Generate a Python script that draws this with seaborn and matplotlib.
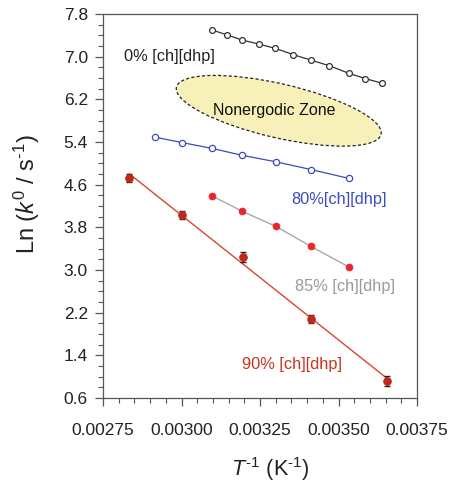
import numpy as np
import pandas as pd
import matplotlib
matplotlib.use("Agg")
import matplotlib.pyplot as plt
import matplotlib.transforms as mtransforms
from matplotlib.patches import Ellipse
from matplotlib.ticker import MultipleLocator, FormatStrFormatter
import seaborn as sns

# ---- data ----
x_0 = [0.003097, 0.003144, 0.003194, 0.003247, 0.003299, 0.003355,
       0.003412, 0.003471, 0.003532, 0.003585, 0.003640]
y_0 = [7.50, 7.41, 7.31, 7.235, 7.155, 7.04, 6.935, 6.83, 6.69, 6.59, 6.50]

x_80 = [0.002916, 0.003002, 0.003097, 0.003194, 0.003300, 0.003412, 0.003532]
y_80 = [5.49, 5.39, 5.28, 5.15, 5.03, 4.885, 4.72]

x_85 = [0.003097, 0.003194, 0.003300, 0.003412, 0.003532]
y_85 = [4.39, 4.10, 3.82, 3.445, 3.06]

x_90 = [0.002833, 0.003002, 0.003196, 0.003412, 0.003655]
y_90 = [4.73, 4.03, 3.24, 2.085, 0.92]
err_90 = [0.08, 0.08, 0.09, 0.08, 0.09]

labels = ["0% [ch][dhp]", "80%[ch][dhp]", "85% [ch][dhp]", "90% [ch][dhp]"]
zone_label = "Nonergodic Zone"

x_ticks = [0.00275, 0.00300, 0.00325, 0.00350, 0.00375]
y_ticks = [0.6, 1.4, 2.2, 3.0, 3.8, 4.6, 5.4, 6.2, 7.0, 7.8]

# ---- style ----
sns.set_theme(style="ticks")
plt.rcParams["font.family"] = ["Liberation Sans", "DejaVu Sans"]
plt.rcParams["mathtext.fontset"] = "custom"
plt.rcParams["mathtext.rm"] = "Liberation Sans"
plt.rcParams["mathtext.it"] = "Liberation Sans:italic"
plt.rcParams["mathtext.bf"] = "Liberation Sans:bold"

fig = plt.figure(figsize=(4.52, 4.82), dpi=100)
ax = fig.add_axes([0.228, 0.174, 0.6946, 0.797])

c_black = "#333333"
c_blue = "#3a4cc0"
c_gray = "#a8a8a8"
c_red85 = "#e8262b"
c_red90 = "#c0281e"
c_line90 = "#d9472b"

df0 = pd.DataFrame({"x": x_0, "y": y_0})
df80 = pd.DataFrame({"x": x_80, "y": y_80})
df85 = pd.DataFrame({"x": x_85, "y": y_85})
df90 = pd.DataFrame({"x": x_90, "y": y_90, "e": err_90})

# nonergodic zone ellipse (pixel-sized, centered in axes fraction)
ell_tr = fig.dpi_scale_trans + mtransforms.ScaledTranslation(0.5596, 0.748, ax.transAxes)
ell = Ellipse((0, 0), width=2.10, height=0.54, angle=-13, transform=ell_tr,
              facecolor="#f7f0b8", edgecolor="#222222", linewidth=0.9,
              linestyle=(0, (2.5, 1.8)), zorder=1)
ax.add_patch(ell)
ax.text(0.544, 0.748, zone_label, transform=ax.transAxes, ha="center", va="center",
        fontsize=11.5, color="#111111", zorder=2)

sns.lineplot(data=df0, x="x", y="y", ax=ax, color=c_black, lw=0.9, marker="o",
             ms=4.2, mfc="white", mec=c_black, mew=0.9, zorder=3)
sns.lineplot(data=df80, x="x", y="y", ax=ax, color=c_blue, lw=0.9, marker="o",
             ms=4.5, mfc="white", mec=c_blue, mew=0.9, zorder=3)
sns.lineplot(data=df85, x="x", y="y", ax=ax, color=c_gray, lw=1.0, marker="o",
             ms=5, mfc=c_red85, mec=c_red85, mew=0.5, zorder=3)
sns.regplot(data=df90, x="x", y="y", ax=ax, ci=None, scatter=False,
            line_kws=dict(color=c_line90, lw=1.0, zorder=3))
ax.errorbar(df90["x"], df90["y"], yerr=df90["e"], fmt="o", ms=5.2, color=c_red90,
            ecolor="#222222", elinewidth=1.0, capsize=2.5, capthick=1.0, zorder=4)

# labels of series
ax.text(0.002962, 7.01, labels[0], fontsize=11.8, color="#222222", ha="center", va="center")
ax.text(0.003502, 4.32, labels[1], fontsize=11.8, color=c_blue, ha="center", va="center")
ax.text(0.003521, 2.686, labels[2], fontsize=11.8, color="#9a9a9a", ha="center", va="center")
ax.text(0.003351, 1.239, labels[3], fontsize=11.8, color="#c8321e", ha="center", va="center")

# axes
ax.set_xlim(x_ticks[0], x_ticks[-1])
ax.set_ylim(y_ticks[0], y_ticks[-1])
ax.set_xticks(x_ticks)
ax.set_yticks(y_ticks)
ax.xaxis.set_major_formatter(FormatStrFormatter("%.5f"))
ax.yaxis.set_major_formatter(FormatStrFormatter("%.1f"))
ax.xaxis.set_minor_locator(MultipleLocator(0.00005))
ax.yaxis.set_minor_locator(MultipleLocator(0.2))
ax.tick_params(which="major", direction="out", length=6, width=0.9, color="#555555",
               labelsize=12.5, labelcolor="#222222", pad=4)
ax.tick_params(which="minor", direction="out", length=3.5, width=0.8, color="#555555")
ax.tick_params(axis="x", pad=12)
ax.tick_params(axis="y", pad=5)
for s in ax.spines.values():
    s.set_color("#555555")
    s.set_linewidth(0.9)
    s.set_visible(True)

ax.set_xlabel(r"$T^{\text{-1}}$ (K$^{\text{-1}}$)", fontsize=15.7, color="#222222")
ax.set_ylabel(r"Ln ($k^{\mathit{0}}$ / s$^{\text{-1}}$)", fontsize=17, color="#222222")
ax.xaxis.set_label_coords(0.534, -0.147)
ax.yaxis.set_label_coords(-0.195, 0.53)
ax.grid(False)
ax.set_facecolor("white")

fig.savefig("out.png", dpi=100)
